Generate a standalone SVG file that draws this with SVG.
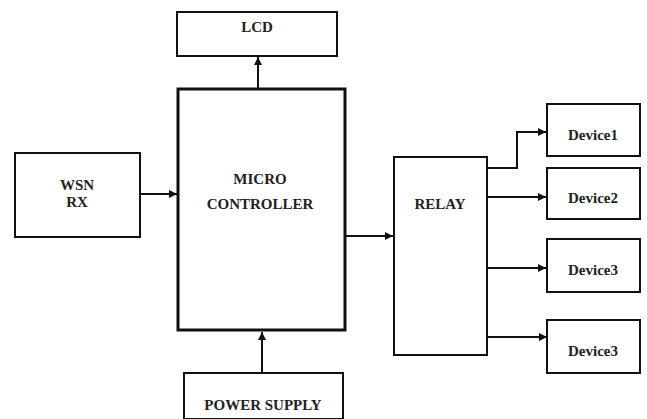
<svg xmlns="http://www.w3.org/2000/svg" width="647" height="419" viewBox="0 0 647 419">
<style>
.box{fill:#fff;stroke:#111;stroke-width:2}
.thick{fill:#fff;stroke:#111;stroke-width:3}
.t{font-family:"Liberation Serif","Times New Roman",serif;font-weight:bold;font-size:15px;fill:#222;text-anchor:middle}
.c{fill:none;stroke:#111;stroke-width:2}
</style>
<defs>
<marker id="a" viewBox="0 0 10 10" refX="10" refY="5" markerWidth="4" markerHeight="4" orient="auto" markerUnits="strokeWidth">
<path d="M0,0 L10,5 L0,10 z" fill="#111"/>
</marker>
</defs>
<rect width="647" height="419" fill="#fff"/>
<g id="connectors">
<path class="c" d="M258,88 V57" marker-end="url(#a)"/>
<path class="c" d="M140,194 H177" marker-end="url(#a)"/>
<path class="c" d="M262,373 V332" marker-end="url(#a)"/>
<path class="c" d="M346,236 H393" marker-end="url(#a)"/>
<path class="c" d="M487,168 H517 V132 H546" marker-end="url(#a)"/>
<path class="c" d="M487,197 H546" marker-end="url(#a)"/>
<path class="c" d="M485,268 H546" marker-end="url(#a)"/>
<path class="c" d="M488,337 H547" marker-end="url(#a)"/>
</g>
<g id="lcd"><rect class="box" x="177" y="12" width="160" height="44"/><text class="t" x="257" y="32">LCD</text></g>
<g id="wsn"><rect class="box" x="15" y="153" width="125" height="84"/><text class="t" x="77" y="190">WSN</text><text class="t" x="77" y="207">RX</text></g>
<g id="mc"><rect class="thick" x="178" y="89" width="167" height="241"/><text class="t" x="260" y="184">MICRO</text><text class="t" x="260" y="209">CONTROLLER</text></g>
<g id="power"><rect class="box" x="184" y="373" width="159" height="46"/><text class="t" x="263" y="410">POWER SUPPLY</text></g>
<g id="relay"><rect class="box" x="394" y="157" width="93" height="198"/><text class="t" x="440" y="209">RELAY</text></g>
<g id="device1"><rect class="box" x="547" y="104" width="93" height="52"/><text class="t" x="593" y="140">Device1</text></g>
<g id="device2"><rect class="box" x="547" y="168" width="93" height="51"/><text class="t" x="593" y="203">Device2</text></g>
<g id="device3"><rect class="box" x="547" y="239" width="93" height="53"/><text class="t" x="593" y="275">Device3</text></g>
<g id="device3b"><rect class="box" x="547" y="320" width="93" height="53"/><text class="t" x="593" y="356">Device3</text></g>
</svg>
